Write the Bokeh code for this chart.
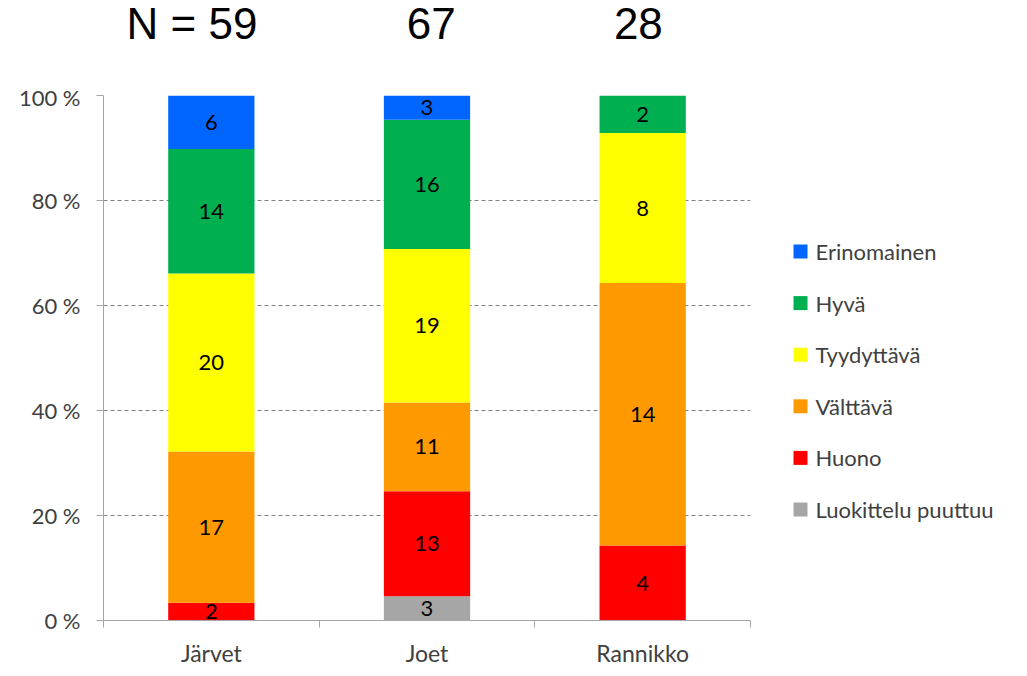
from bokeh.plotting import figure
from bokeh.layouts import column, row
from bokeh.models import Range1d, FixedTicker, ColumnDataSource
from bokeh.core.properties import value
from bokeh.embed import file_html
from bokeh.resources import INLINE

# ---- data ----
categories = ["Järvet", "Joet", "Rannikko"]
n_labels = ["N = 59", "67", "28"]
classes = ["Luokittelu puuttuu", "Huono", "Välttävä", "Tyydyttävä", "Hyvä", "Erinomainen"]
colors = ["#A6A6A6", "#FF0000", "#FF9900", "#FFFF00", "#00B050", "#0066FF"]
luokittelu_puuttuu = [0, 3, 0]
huono = [2, 13, 4]
valttava = [17, 11, 14]
tyydyttava = [20, 19, 8]
hyva = [14, 16, 2]
erinomainen = [6, 3, 0]
counts = [luokittelu_puuttuu, huono, valttava, tyydyttava, hyva, erinomainen]
y_ticks = [0, 20, 40, 60, 80, 100]

# ---- layout constants ----
title_x = [0.41, 1.52, 2.48]
xs = [i + 0.5 for i in range(len(categories))]
totals = [sum(c[i] for c in counts) for i in range(len(categories))]
LEFT, FW, FH, RB = 103, 647, 525, 10
TOP_H, TOP_B, BOT_B = 83, 12, 56
LEG_W = 1027 - LEFT - FW - RB
LEG_H = TOP_B + FH + BOT_B
LEG_X, LEG_Y0, LEG_PITCH = 40, 111, 51.6
FONT = "Lato"
GREY_TXT = "#404040"

x_range = Range1d(0, 3)

# ---- top strip with the N labels ----
top = figure(title=None, frame_width=FW, frame_height=TOP_H, output_backend="svg",
             toolbar_location=None, x_range=x_range, y_range=Range1d(0, TOP_H),
             min_border_left=LEFT, min_border_right=RB,
             min_border_top=0, min_border_bottom=0,
             x_axis_location=None, y_axis_location=None)
top.outline_line_color = None
top.grid.grid_line_color = None
top.text(x=title_x, y=[60] * 3, text=n_labels, text_align="center",
         text_baseline="alphabetic", text_font=value("Liberation Sans"),
         text_font_size="44px", text_color="#000000")

# ---- main chart ----
p = figure(title=None, frame_width=FW, frame_height=FH, output_backend="svg",
           toolbar_location=None, x_range=x_range, y_range=Range1d(0, 100),
           min_border_left=LEFT, min_border_right=RB, min_border_top=TOP_B,
           min_border_bottom=BOT_B)
p.outline_line_color = None

data = {"x": xs}
for k, c in zip(classes, counts):
    data[k] = [c[i] / totals[i] * 100 for i in range(len(categories))]
src = ColumnDataSource(data)
p.vbar_stack(classes, x="x", width=0.4, color=colors, line_color=None, source=src)

lx, ly, lt = [], [], []
for i in range(len(categories)):
    base = 0.0
    for c in counts:
        h = c[i] / totals[i] * 100
        if c[i] > 0:
            lx.append(xs[i]); ly.append(base + h / 2); lt.append(str(c[i]))
        base += h
p.text(x=lx, y=ly, text=lt, text_align="center", text_baseline="middle",
       text_font=value(FONT), text_font_size="22px", text_color="#000000")

# y axis
p.yaxis.ticker = FixedTicker(ticks=y_ticks)
p.yaxis.major_label_overrides = {t: f"{t} %" for t in y_ticks}
p.yaxis.major_label_text_font = FONT
p.yaxis.major_label_text_font_size = "22px"
p.yaxis.major_label_text_color = GREY_TXT
p.yaxis.axis_line_color = "#A6A6A6"
p.yaxis.major_tick_line_color = "#A6A6A6"
p.yaxis.major_tick_out = 7
p.yaxis.major_tick_in = 0
p.yaxis.minor_tick_line_color = None
p.yaxis.major_label_standoff = 16

# x axis
p.xaxis.ticker = FixedTicker(ticks=xs, minor_ticks=[0, 1, 2, 3])
p.xaxis.major_label_overrides = {x: c for x, c in zip(xs, categories)}
p.xaxis.major_label_text_font = FONT
p.xaxis.major_label_text_font_size = "23px"
p.xaxis.major_label_text_color = GREY_TXT
p.xaxis.axis_line_color = "#A6A6A6"
p.xaxis.major_tick_line_color = None
p.xaxis.minor_tick_line_color = "#A6A6A6"
p.xaxis.minor_tick_out = 7
p.xaxis.minor_tick_in = 0
p.xaxis.major_label_standoff = 11

# grid
p.xgrid.grid_line_color = None
p.ygrid.ticker = FixedTicker(ticks=y_ticks)
p.ygrid.grid_line_color = "#808080"
p.ygrid.grid_line_dash = "4 3"

# ---- legend panel (frame aligned with the main chart's frame) ----
leg = figure(title=None, width=LEG_W, height=LEG_H, output_backend="svg",
             toolbar_location=None, x_range=Range1d(0, LEG_W), y_range=Range1d(0, FH),
             min_border=0, x_axis_location=None, y_axis_location=None)
leg.outline_line_color = None
leg.grid.grid_line_color = None
leg_src = ColumnDataSource(dict(
    x=[LEG_X] * len(classes),
    tx=[LEG_X + 15] * len(classes),
    y=[LEG_Y0 + i * LEG_PITCH for i in range(len(classes))],
    label=classes, color=colors))
leg.scatter(x="x", y="y", marker="square", size=14, color="color", line_color=None,
            source=leg_src)
leg.text(x="tx", y="y", text="label", text_align="left", text_baseline="middle",
         text_font=value(FONT), text_font_size="22px", text_color=GREY_TXT,
         source=leg_src)

open("out.html", "w").write(file_html(column(top, row(p, leg, spacing=0), spacing=0), INLINE))
